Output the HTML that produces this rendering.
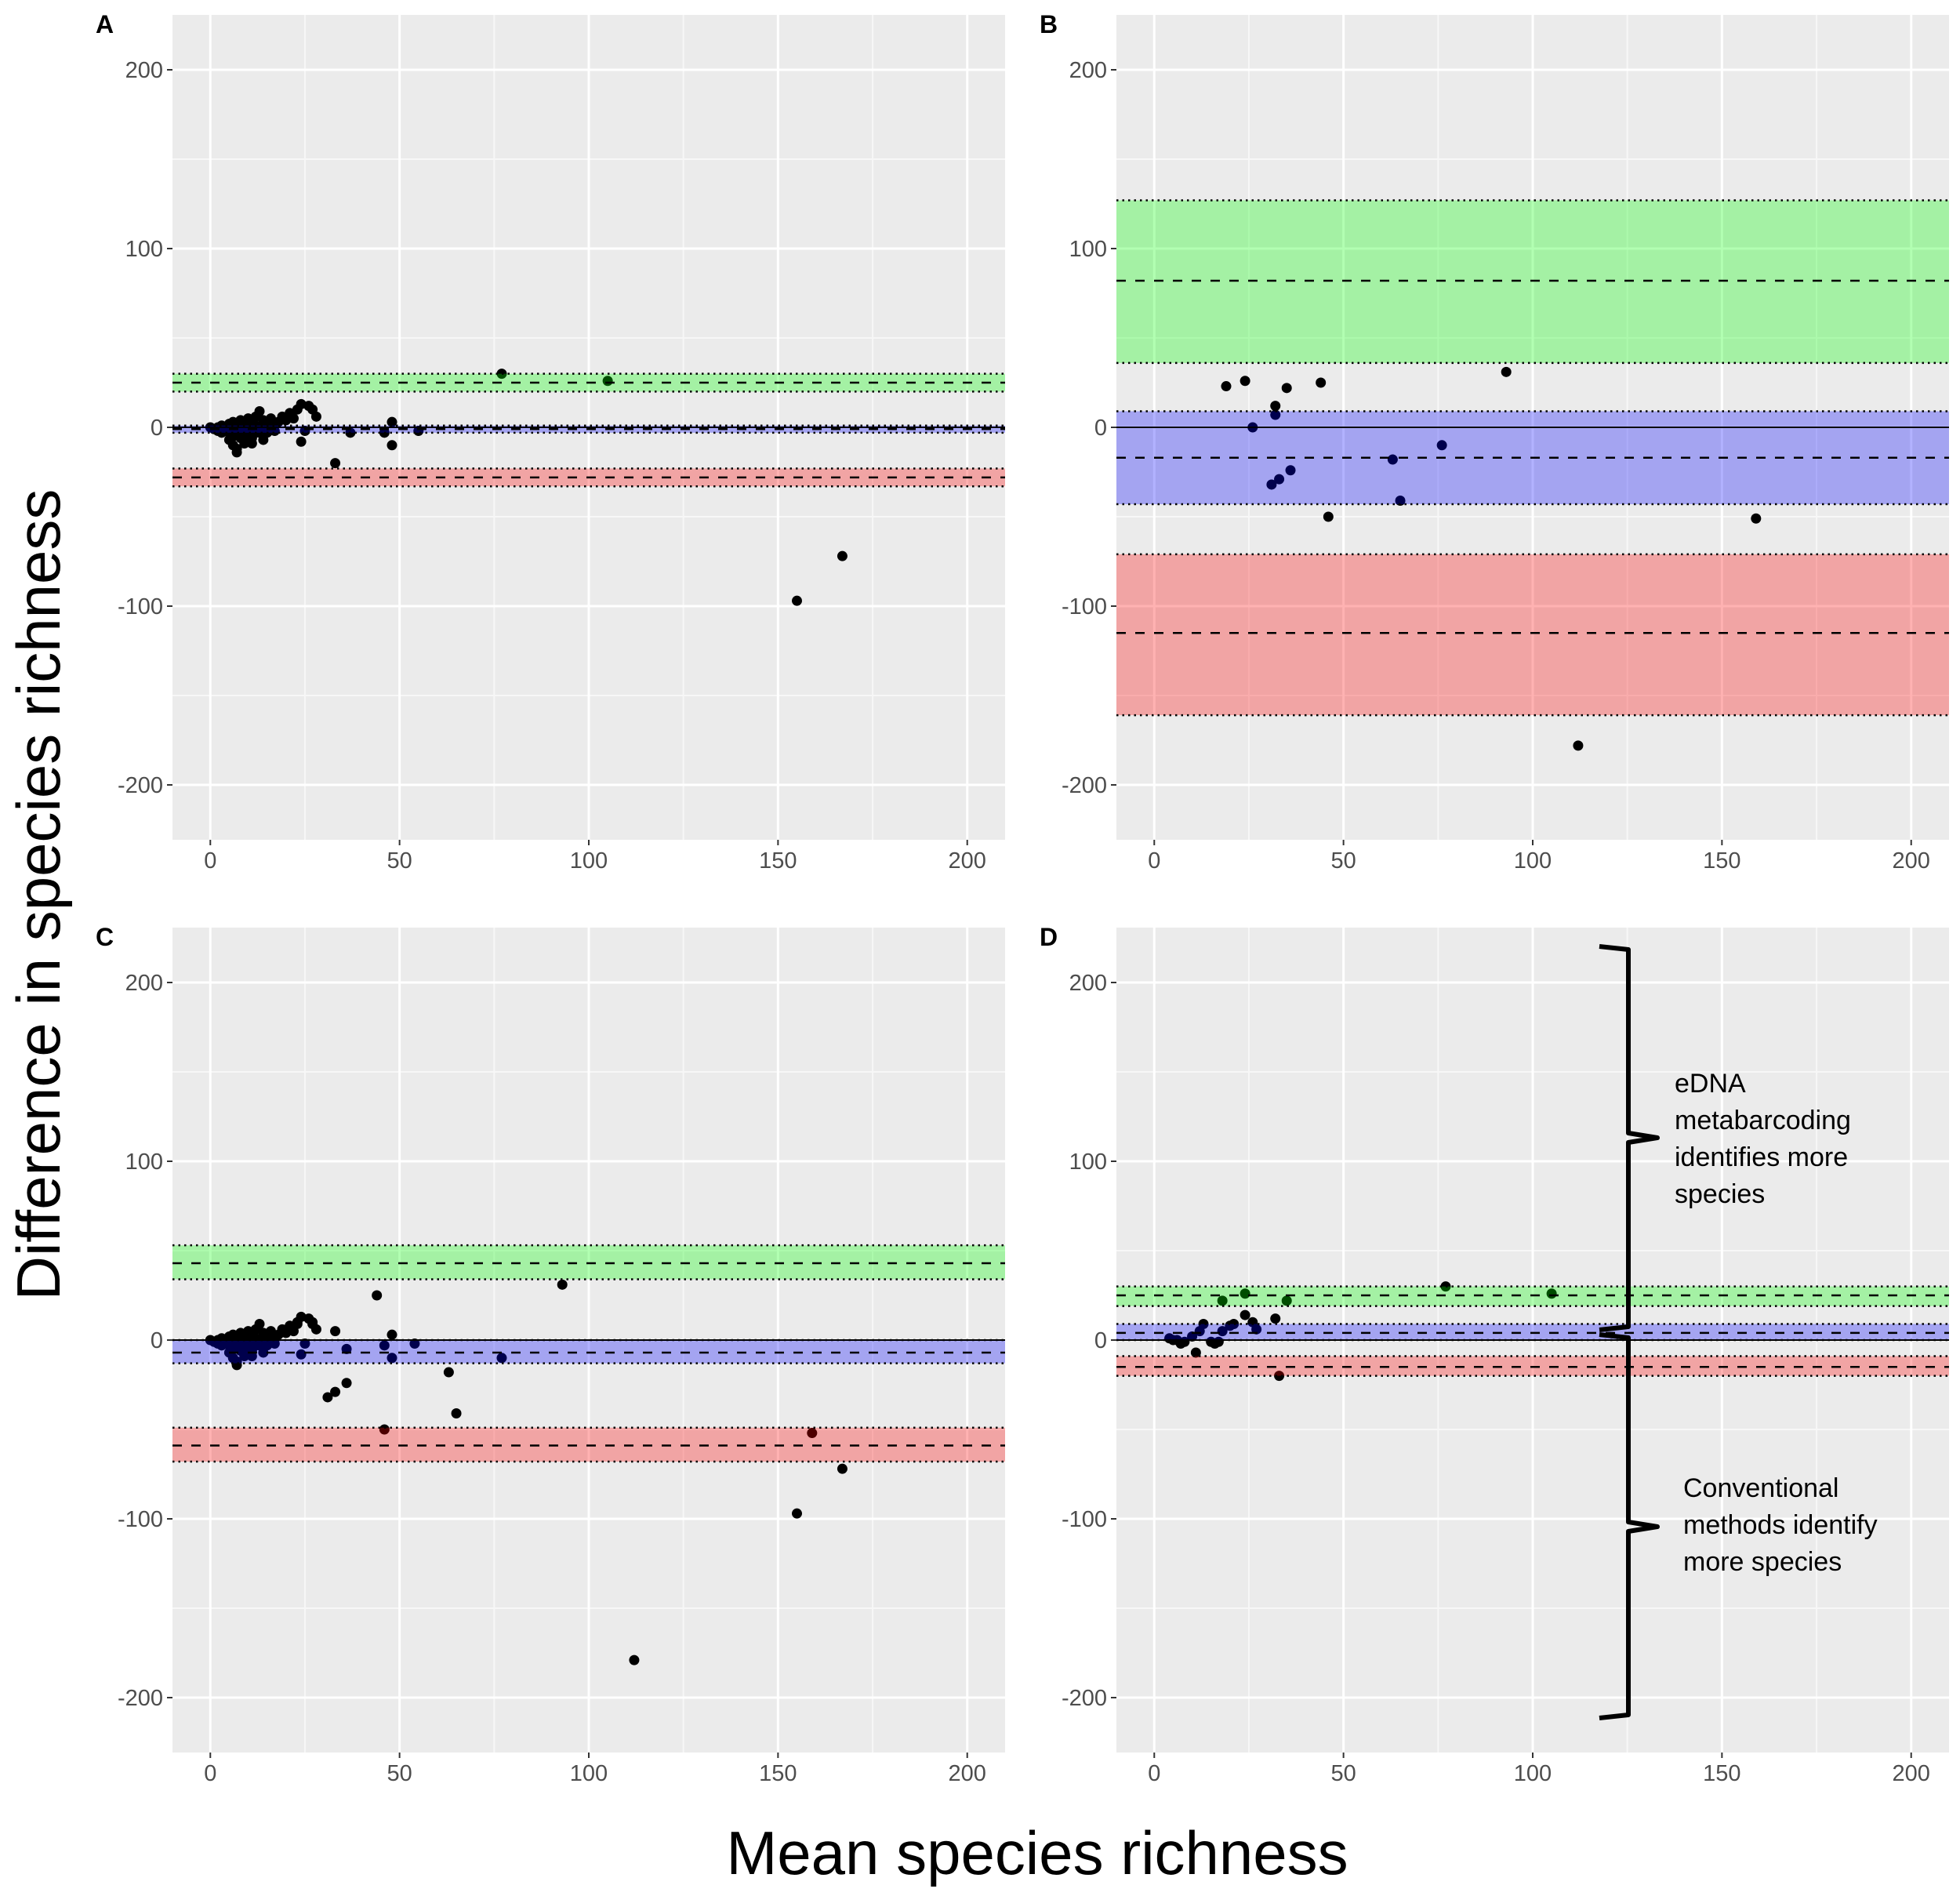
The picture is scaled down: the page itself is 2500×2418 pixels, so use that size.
<!DOCTYPE html>
<html><head><meta charset="utf-8"><style>
html,body{margin:0;padding:0;background:#fff;}
svg{display:block;font-family:"Liberation Sans",sans-serif;}
</style></head><body>
<svg id="fig" width="2500" height="2418" viewBox="0 0 2500 2418" xmlns="http://www.w3.org/2000/svg">
<text x="76" y="1141" font-size="78" text-anchor="middle" transform="rotate(-90 76 1141)" fill="#000">Difference in species richness</text>
<text x="1323" y="2390" font-size="78" text-anchor="middle" fill="#000">Mean species richness</text>
</svg>
<script>
// ---- data ----
const xTicks = [0, 50, 100, 150, 200];
const yTicks = [200, 100, 0, -100, -200];
const panelLetters = ["A", "B", "C", "D"];
const greenBands = [[20, 25, 30], [36, 82, 127], [34, 43, 53], [19, 25, 30]];
const blueBands = [[-3, -1, 1], [-43, -17, 9], [-13, -7, 0], [0, 4, 9]];
const redBands = [[-33, -28, -23], [-161, -115, -71], [-68, -59, -49], [-20, -15, -9]];
const clusterX = [0,1,2,2,3,3,4,4,5,5,5,6,6,6,7,7,7,8,8,8,8,9,9,9,10,10,10,10,11,11,11,12,12,12,13,13,13,14,14,14,15,15,16,16,17,18,19,20,21,22,23,24,25,26,27,28,5,6,7,9,11,13];
const clusterY = [0,-1,0,-2,1,-3,0,-2,2,-1,-7,3,-4,-10,0,-12,-14,1,-3,-6,4,2,-2,-8,0,5,-4,-1,3,-6,-9,1,6,-3,9,-2,0,4,-7,2,0,-3,5,1,-2,3,6,4,8,5,10,13,-2,12,10,6,-3,-5,-1,-9,-5,-3];
const extraAX = [77, 105, 155, 167, 33, 48, 48, 46, 37, 55, 24];
const extraAY = [30, 26, -97, -72, -20, 3, -10, -3, -3, -2, -8];
const ptsBX = [19, 24, 26, 31, 32, 32, 33, 35, 36, 44, 46, 63, 65, 76, 93, 112, 159];
const ptsBY = [23, 26, 0, -32, 12, 7, -29, 22, -24, 25, -50, -18, -41, -10, 31, -178, -51];
const extraCX = [44, 93, 23, 27, 33, 36, 48, 48, 46, 31, 33, 36, 46, 54, 63, 65, 77, 112, 155, 159, 167, 24];
const extraCY = [25, 31, 9, 9, 5, -5, 3, -10, -3, -32, -29, -24, -50, -2, -18, -41, -10, -179, -97, -52, -72, -8];
const ptsDX = [4, 5, 6, 7, 8, 10, 11, 12, 13, 15, 16, 17, 18, 18, 20, 21, 24, 24, 26, 27, 32, 33, 35, 77, 105];
const ptsDY = [1, 0, 0, -2, -1, 2, -7, 5, 9, -1, -2, -1, 5, 22, 8, 9, 14, 26, 10, 6, 12, -20, 22, 30, 26];

const NS = "http://www.w3.org/2000/svg";
const svg = document.getElementById("fig");
function mk(tag, attrs, parent) {
  const e = document.createElementNS(NS, tag);
  for (const k in attrs) e.setAttribute(k, attrs[k]);
  (parent || svg).appendChild(e);
  return e;
}
const panels = [
  {x: 220, y: 19}, {x: 1424, y: 19}, {x: 220, y: 1183}, {x: 1424, y: 1183}
];
const PW = 1062, PH = 1052;
const XMIN = -10, XMAX = 210, YMIN = -230.7, YMAX = 230.7;

function pointsFor(i) {
  if (i === 0) return [clusterX.concat(extraAX), clusterY.concat(extraAY)];
  if (i === 1) return [ptsBX.slice(), ptsBY.slice()];
  if (i === 2) return [clusterX.concat(extraCX), clusterY.concat(extraCY)];
  return [ptsDX.slice(), ptsDY.slice()];
}

panels.forEach((p, i) => {
  const sx = v => p.x + (v - XMIN) / (XMAX - XMIN) * PW;
  const sy = v => p.y + (YMAX - v) / (YMAX - YMIN) * PH;
  const g = mk("g", {});
  
  
  const bg = mk("rect", {x: p.x, y: p.y, width: PW, height: PH, fill: "#EBEBEB"}, g);
  
  
  [25, 75, 125, 175].forEach(v => mk("line", {x1: sx(v), x2: sx(v), y1: p.y, y2: p.y + PH, stroke: "#F7F7F7", "stroke-width": 2}, g));
  [150, 50, -50, -150].forEach(v => mk("line", {y1: sy(v), y2: sy(v), x1: p.x, x2: p.x + PW, stroke: "#F7F7F7", "stroke-width": 2}, g));
  xTicks.forEach(v => mk("line", {x1: sx(v), x2: sx(v), y1: p.y, y2: p.y + PH, stroke: "#fff", "stroke-width": 3}, g));
  yTicks.forEach(v => mk("line", {y1: sy(v), y2: sy(v), x1: p.x, x2: p.x + PW, stroke: "#fff", "stroke-width": 3}, g));
  xTicks.forEach(v => {
    mk("line", {x1: sx(v), x2: sx(v), y1: p.y + PH, y2: p.y + PH + 7, stroke: "#333", "stroke-width": 2}, g);
    const t = mk("text", {x: sx(v), y: p.y + PH + 36, "font-size": 29, "text-anchor": "middle", fill: "#4D4D4D"}, g);
    t.textContent = v;
    
    
  });
  yTicks.forEach(v => {
    mk("line", {x1: p.x - 7, x2: p.x, y1: sy(v), y2: sy(v), stroke: "#333", "stroke-width": 2}, g);
    const t = mk("text", {x: p.x - 12, y: sy(v) + 10, "font-size": 29, "text-anchor": "end", fill: "#4D4D4D"}, g);
    t.textContent = v;
    
    
  });
  const [xs, ys] = pointsFor(i);
  xs.forEach((xv, k) => {
    const c = mk("circle", {cx: sx(xv), cy: sy(ys[k]), r: 6.5, fill: "#000"}, g);
    
    
  });
  const bands = [[greenBands[i], "#00FF00", "upper-limit-band"], [blueBands[i], "#0000FF", "bias-band"], [redBands[i], "#FF0000", "lower-limit-band"]];
  bands.forEach(([b, col, nm]) => {
    const r = mk("rect", {x: p.x, y: sy(b[2]), width: PW, height: sy(b[0]) - sy(b[2]), fill: col, "fill-opacity": 0.3}, g);
    
    
  });
  const z = mk("line", {x1: p.x, x2: p.x + PW, y1: sy(0), y2: sy(0), stroke: "#000", "stroke-width": 2}, g);
  
  
  bands.forEach(([b]) => {
    [b[0], b[2]].forEach(v => mk("line", {x1: p.x, x2: p.x + PW, y1: sy(v), y2: sy(v), stroke: "#000", "stroke-width": 2.5, "stroke-dasharray": "2.5 5"}, g));
    const d = mk("line", {x1: p.x, x2: p.x + PW, y1: sy(b[1]), y2: sy(b[1]), stroke: "#000", "stroke-width": 2.5, "stroke-dasharray": "12 12"}, g);
    
    
  });
  const L = mk("text", {x: p.x - 98, y: p.y + 23, "font-size": 32, "font-weight": "bold", fill: "#000"}, g);
  L.textContent = panelLetters[i];
  
  
});

function brace(top, tip, bottom, x) {
  const d = `M ${x-37} ${top} L ${x} ${top+4} L ${x} ${tip-6} L ${x+37} ${tip} L ${x} ${tip+6} L ${x} ${bottom-4} L ${x-37} ${bottom}`;
  return mk("path", {d: d, fill: "none", stroke: "#000", "stroke-width": 6, "stroke-linejoin": "round"});
}
const b1 = brace(1207, 1451, 1696, 2077);


const b2 = brace(1702, 1947, 2191, 2077);


const ann1 = ["eDNA", "metabarcoding", "identifies more", "species"];
const ann2 = ["Conventional", "methods identify", "more species"];
const t1 = mk("text", {"font-size": 34, fill: "#000"});


ann1.forEach((s, k) => { const ts = mk("tspan", {x: 2136, y: 1393 + k * 47}, t1); ts.textContent = s; });
const t2 = mk("text", {"font-size": 34, fill: "#000"});


ann2.forEach((s, k) => { const ts = mk("tspan", {x: 2147, y: 1909 + k * 47}, t2); ts.textContent = s; });
</script>
</body></html>
